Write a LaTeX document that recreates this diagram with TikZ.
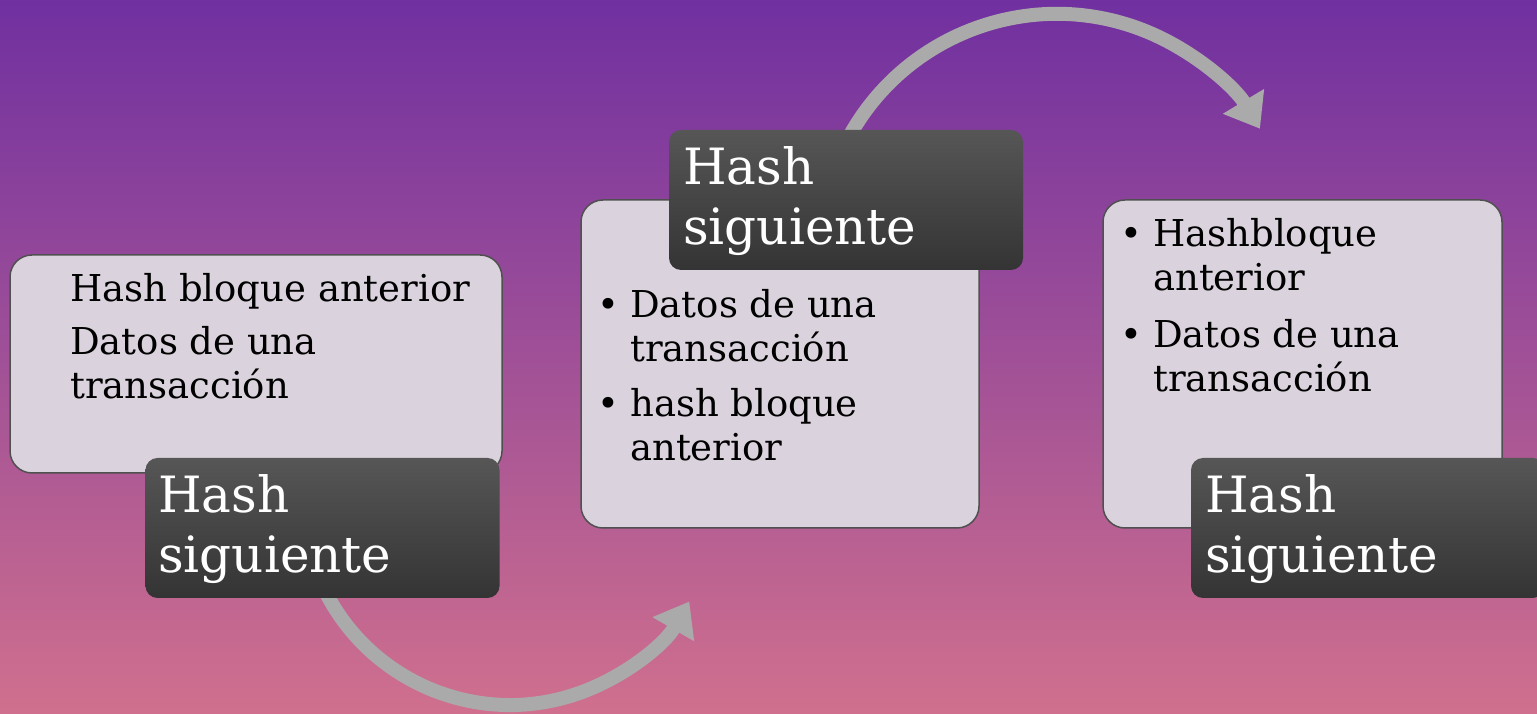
\documentclass[tikz,border=0pt]{standalone}
\usepackage{fontspec}
\setmainfont{DejaVu Serif}
\usetikzlibrary{arrows.meta}
\definecolor{bgtop}{RGB}{112,48,160}
\definecolor{bgbottom}{RGB}{208,112,142}
\definecolor{blockfill}{RGB}{218,210,220}
\definecolor{blockline}{RGB}{80,80,80}
\definecolor{darktop}{RGB}{86,86,86}
\definecolor{darkbottom}{RGB}{52,52,52}
\definecolor{arrowgray}{RGB}{170,170,170}
\tikzstyle{block} = [draw=blockline, line width=1.5pt, fill=blockfill, rounded corners=22pt, inner sep=0pt]
\tikzstyle{hashbox} = [top color=darktop, bottom color=darkbottom, rounded corners=12pt, inner sep=0pt, minimum width=354pt, minimum height=140pt]
\tikzstyle{lines} = [anchor=base west, inner sep=0pt, font=\fontsize{37}{44}\selectfont]
\tikzstyle{hashtext} = [anchor=base west, inner sep=0pt, text=white, font=\fontsize{50}{60}\selectfont]
\tikzstyle{arrow} = [draw=arrowgray, line width=14pt, -{Triangle[length=32pt,width=46pt]}]
\newcommand{\bul}{\makebox[33pt][l]{\textbullet}}

\begin{document}
\begin{tikzpicture}[x=1pt, y=1pt]
	\clip (0,0) rectangle (1537,714);
	\shade[top color=bgtop, bottom color=bgbottom] (0,0) rectangle (1537,714);
	\coordinate (a1) at (315.5,145.2);
	\coordinate (a2) at (842,563.3);
	\draw[arrow](a1) arc[start angle=200, end angle=330, radius=207pt];
	\draw[arrow](a2) arc[start angle=155, end angle=31, radius=237pt];
	\node[block, minimum width=492pt, minimum height=218pt](b1) at (256,350){};
	\node[block, minimum width=398pt, minimum height=328pt](b2) at (780,350){};
	\node[block, minimum width=399pt, minimum height=328pt](b3) at (1302.5,350){};
	\node[lines](l1) at (70,412){\begin{tabular}[t]{@{}l@{}}
		Hash bloque anterior\\[9pt]
		Datos de una\\
		transacción
	\end{tabular}};
	\node[lines](l2) at (597,396){\begin{tabular}[t]{@{}l@{}l@{}}
		\bul & Datos de una\\
		& transacción\\[11pt]
		\bul & hash bloque\\
		& anterior
	\end{tabular}};
	\node[lines](l3) at (1120,467){\begin{tabular}[t]{@{}l@{}l@{}}
		\bul & Hashbloque\\
		& anterior\\[13pt]
		\bul & Datos de una\\
		& transacción
	\end{tabular}};
	\node[hashbox](h1) at (322.5,186){};
	\node[hashbox](h2) at (846,514){};
	\node[hashbox](h3) at (1368,186){};
	\node[hashtext](s1) at (158,201){\begin{tabular}[t]{@{}l@{}}Hash\\ siguiente\end{tabular}};
	\node[hashtext](s2) at (683,529){\begin{tabular}[t]{@{}l@{}}Hash\\ siguiente\end{tabular}};
	\node[hashtext](s3) at (1205,201){\begin{tabular}[t]{@{}l@{}}Hash\\ siguiente\end{tabular}};
\end{tikzpicture}
\end{document}
